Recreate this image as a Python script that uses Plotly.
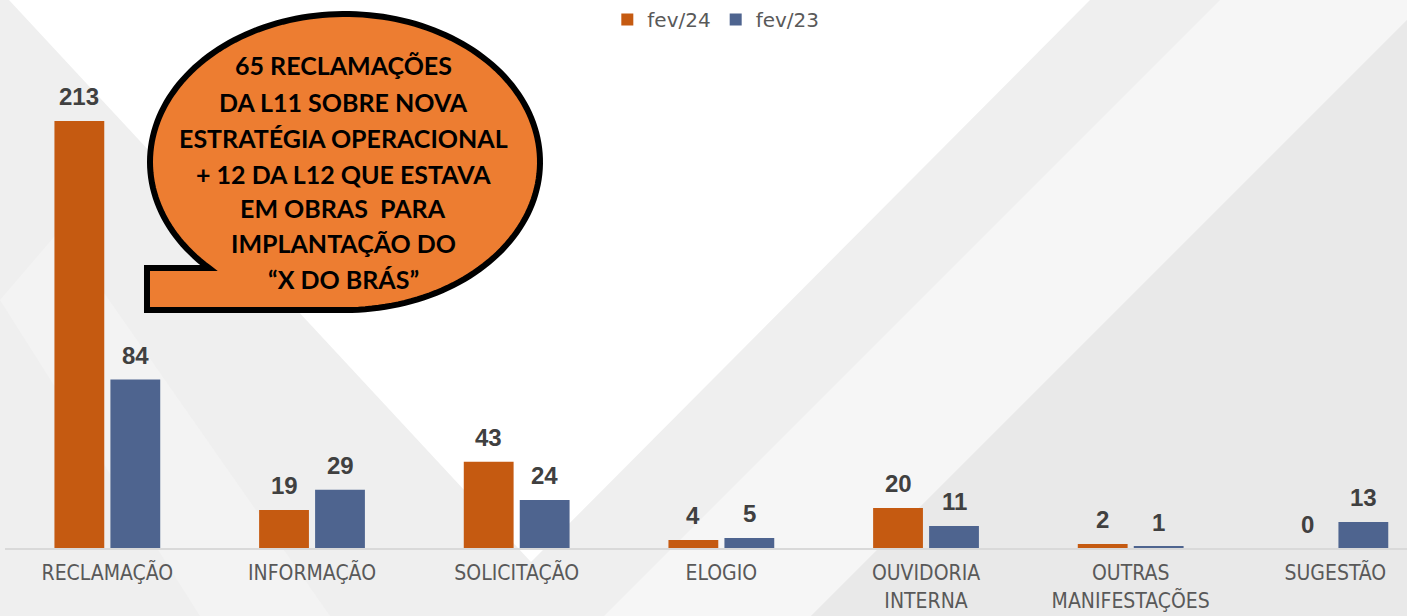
import numpy as np
import plotly.graph_objects as go

# ---------------- data ----------------
categories = ["RECLAMAÇÃO", "INFORMAÇÃO", "SOLICITAÇÃO", "ELOGIO",
              "OUVIDORIA<br>INTERNA", "OUTRAS<br>MANIFESTAÇÕES", "SUGESTÃO"]
fev24 = [213, 19, 43, 4, 20, 2, 0]
fev23 = [84, 29, 24, 5, 11, 1, 13]
series_names = ["fev/24", "fev/23"]
callout_lines = ["65 RECLAMAÇÕES", "DA L11 SOBRE NOVA", "ESTRATÉGIA OPERACIONAL",
                 "+ 12 DA L12 QUE ESTAVA", "EM OBRAS  PARA", "IMPLANTAÇÃO DO",
                 "“X DO BRÁS”"]

# ---------------- layout geometry ----------------
W, H = 1407, 616
ML, MR, MT, MB = 5, 0, 40, 68
PW, PH = W - ML - MR, H - MT - MB

ORANGE = "#C55A11"
BLUE = "#4E648F"


def px(x):
    return (x - ML) / PW


def py(y):
    return (H - MB - y) / PH


def poly(points):
    s = "M " + " L ".join(f"{px(x):.5f},{py(y):.5f}" for x, y in points) + " Z"
    return s


fig = go.Figure()
fig.add_trace(go.Bar(x=categories, y=fev24, name=series_names[0],
                     marker=dict(color=ORANGE, line=dict(width=0))))
fig.add_trace(go.Bar(x=categories, y=fev23, name=series_names[1],
                     marker=dict(color=BLUE, line=dict(width=0))))

shapes = []
# background decoration
bg = [
    ([(9, 0), (1090, 0), (531, 562)], "#FFFFFF"),
    ([(1220, 0), (1427, 0), (800, 627), (593, 627)], "#F6F6F6"),
    ([(1407, 20), (1407, 616), (811, 616)], "#E9E9E9"),
    ([(0, 300), (60, 230), (330, 616), (200, 616)], "#F3F3F3"),
]
for pts, col in bg:
    shapes.append(dict(type="path", xref="paper", yref="paper", path=poly(pts),
                       fillcolor=col, line=dict(width=0), layer="below"))

# speech bubble
cx, cy, rx, ry = 345, 162, 195, 148
t0 = np.degrees(np.arcsin((268 - cy) / ry))
t_start = 180 - t0
ts = np.radians(np.linspace(t_start, 450, 160))
pts = [(cx + rx * np.cos(t), cy + ry * np.sin(t)) for t in ts]
pts += [(147, 310), (147, 268)]
shapes.append(dict(type="path", xref="paper", yref="paper", path=poly(pts),
                   fillcolor="#ED7D31", line=dict(color="black", width=6),
                   layer="above"))

annotations = []
# data labels
for vals, shift in ((fev24, -28), (fev23, 28)):
    for c, v in zip(categories, vals):
        annotations.append(dict(x=c, y=v, xref="x", yref="y", text=f"<b>{v}</b>",
                                showarrow=False, xshift=shift, yshift=24,
                                yanchor="middle",
                                font=dict(family="Liberation Sans, Arial", size=24,
                                          color="#404040")))
# callout text
line_centers = [65, 101.5, 137.5, 173.5, 208.5, 243.5, 278.5]
for txt, yc in zip(callout_lines, line_centers):
    annotations.append(dict(x=px(343), y=py(yc), xref="paper", yref="paper",
                            text=f"<b>{txt}</b>", showarrow=False,
                            xanchor="center", yanchor="middle",
                            font=dict(family="Lato", size=25, color="black")))

fig.update_layout(
    width=W, height=H,
    margin=dict(l=ML, r=MR, t=MT, b=MB),
    paper_bgcolor="#EFEFEF", plot_bgcolor="rgba(0,0,0,0)",
    barmode="group", bargap=0.453, bargroupgap=0.11,
    showlegend=True,
    legend=dict(orientation="h", x=0.507, xanchor="center", y=1, yref="container",
                yanchor="top", bgcolor="rgba(0,0,0,0)",
                font=dict(family="DejaVu Sans", size=20, color="#595959")),
    xaxis=dict(range=[-0.5, 6.35], showgrid=False, zeroline=False, automargin=False,
               showline=True, linecolor="#D9D9D9", linewidth=2,
               ticks="outside", ticklen=5, tickcolor="rgba(0,0,0,0)",
               tickfont=dict(family="Liberation Sans Narrow, Arial Narrow, DejaVu Sans Condensed",
                             size=21, color="#595959")),
    yaxis=dict(range=[0, (H - MT - MB) / 2.005], visible=False, automargin=False),
    shapes=shapes, annotations=annotations,
)

fig.write_html("out.html", config={"displayModeBar": False},
               post_script="document.body.style.margin='0';document.body.style.overflow='hidden';")
